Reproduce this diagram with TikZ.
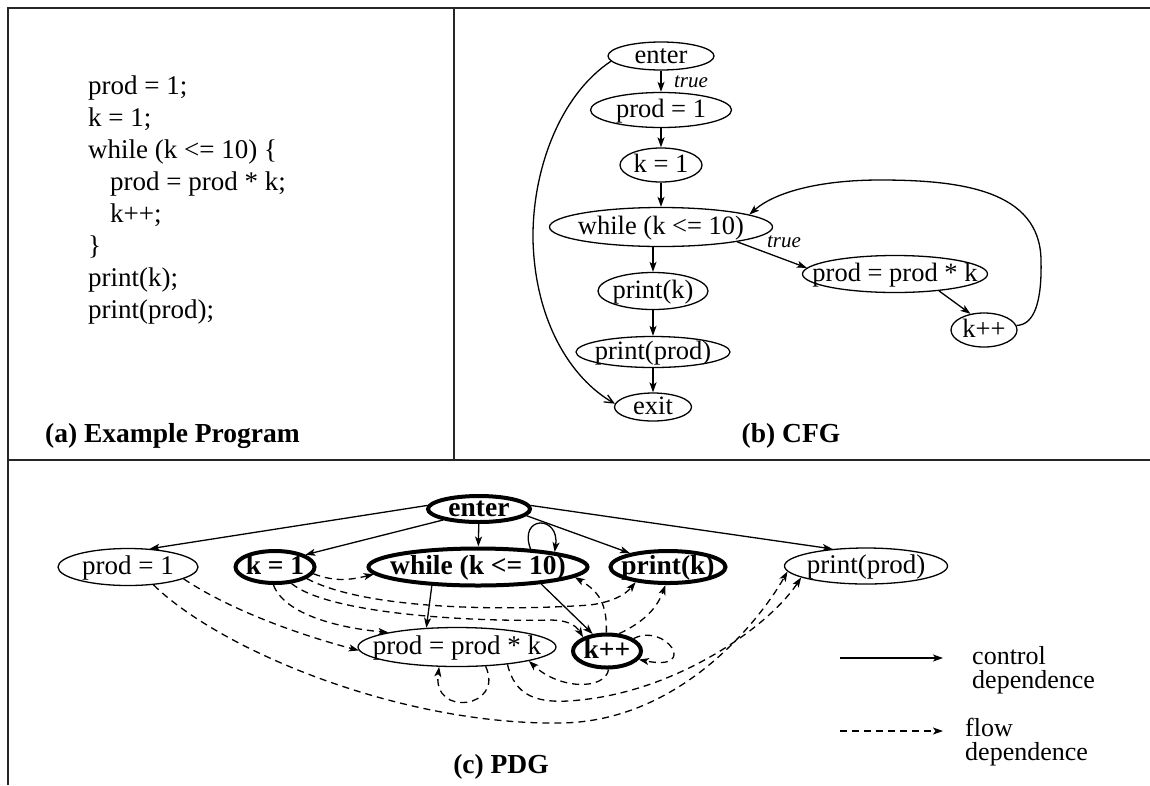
\documentclass[tikz,border=0pt]{standalone}
\usepackage{fontspec}
\setmainfont{Liberation Serif}
\usetikzlibrary{arrows.meta,shapes.geometric}
\newcommand{\ntx}[1]{\makebox[0pt]{#1}}
\begin{document}
\begin{tikzpicture}[x=1pt,y=-1pt,
  >={Stealth[length=10pt,width=7pt,inset=2.5pt]},
  ell/.style 2 args={ellipse, draw, line width=1.3pt, inner sep=0pt, minimum width=#1, minimum height=#2, text height=15.5pt, text depth=0pt},
  thk/.style={line width=4pt},
  cfgf/.style={font=\fontsize{26.5}{30}\selectfont},
  pdgf/.style={font=\fontsize{27}{30}\selectfont},
  bfn/.style={font=\fontsize{27.5}{30}\selectfont\bfseries},
  codef/.style={anchor=base west, inner sep=0pt, font=\fontsize{27}{30}\selectfont},
  capf/.style={inner sep=0pt, font=\fontsize{27.5}{30}\selectfont\bfseries},
  truef/.style={inner sep=0pt, font=\fontsize{21}{24}\selectfont\itshape},
  legf/.style={anchor=base west, inner sep=0pt, font=\fontsize{26}{21}\selectfont},
  ctl/.style={->, line width=1.3pt},
  flw/.style={->, line width=1.3pt, dash pattern=on 7pt off 5pt},
  frm/.style={line width=2pt, black!85},
]
\useasboundingbox (0,0) rectangle (1150,785);

% frame
\draw[frm] (8,785) -- (8,8) -- (1150,8);
\draw[frm] (8,460) -- (1150,460);
\draw[line width=1.3pt, black!85] (454,8) -- (454,460);

% (a) program
\node[codef] (c1) at (88,94.5) {prod = 1;};
\node[codef] (c2) at (88,126.5) {k = 1;};
\node[codef] (c3) at (88,158.5) {while (k <= 10) \{};
\node[codef] (c4) at (110,190.5) {prod = prod * k;};
\node[codef] (c5) at (110,222.5) {k++;};
\node[codef] (c6) at (88,254.5) {\}};
\node[codef] (c7) at (88,286.5) {print(k);};
\node[codef] (c8) at (88,318.5) {print(prod);};
\node[capf, anchor=base west] (la) at (45,442) {(a) Example Program};

% (b) CFG
\node[ell={106pt}{28pt}, cfgf] (cEnter) at (661,56) {\ntx{enter}};
\node[ell={141pt}{35pt}, cfgf] (cProd1) at (661,110) {\ntx{prod = 1}};
\node[ell={82pt}{34pt}, cfgf] (cK1) at (661,165) {\ntx{k = 1}};
\node[ell={223pt}{39pt}, cfgf] (cWhile) at (661,227) {\ntx{while (k <= 10)}};
\node[ell={110pt}{37pt}, cfgf] (cPk) at (653,291) {\ntx{print(k)}};
\node[ell={154pt}{31pt}, cfgf] (cPp) at (653,352) {\ntx{print(prod)}};
\node[ell={77pt}{28pt}, cfgf] (cExit) at (653,407) {\ntx{exit}};
\node[ell={185pt}{37pt}, cfgf] (cProdk) at (895,274) {\ntx{prod = prod * k}};
\node[ell={66pt}{34pt}, cfgf] (cKpp) at (984,330) {\ntx{k++}};
\node[truef] (t1) at (691,82) {true};
\node[truef] (t2) at (784,242) {true};
\node[capf, anchor=base] (lb) at (791,442) {(b) CFG};

\draw[ctl] (cEnter) -- (cProd1);
\draw[ctl] (cProd1) -- (cK1);
\draw[ctl] (cK1) -- (cWhile);
\draw[ctl] (cPk |- cWhile.south) -- (cPk);
\draw[ctl] (cPk) -- (cPp);
\draw[ctl] (cPp) -- (cExit);
\draw[ctl] (cWhile.-11) -- (cProdk.176);
\draw[ctl] (cProdk.-21) -- (cKpp.130);
\draw[ctl] (cKpp.8) .. controls (1035,325) and (1042,300) .. (1041,260)
  .. controls (1040,190) and (960,180) .. (880,180)
  .. controls (820,180) and (775,192) .. (cWhile.8);
\draw[line width=1.3pt, -{Straight Barb[length=9pt,width=8pt]}] (cEnter.186)
  .. controls (560,95) and (532,170) .. (533,240)
  .. controls (535,320) and (570,378) .. (cExit.175);

% (c) PDG
\node[ell={102pt}{26pt}, thk, bfn] (pEnter) at (479,509) {\ntx{enter}};
\node[ell={140pt}{37pt}, pdgf] (pProd1) at (128,567) {\ntx{prod = 1}};
\node[ell={79pt}{32pt}, thk, bfn] (pK1) at (275,567) {\ntx{k = 1}};
\node[ell={219pt}{37pt}, thk, bfn] (pWhile) at (478,567) {\ntx{while (k <= 10)}};
\node[ell={115pt}{32pt}, thk, bfn] (pPk) at (668,567) {\ntx{print(k)}};
\node[ell={163pt}{36pt}, pdgf] (pPp) at (866,566) {\ntx{print(prod)}};
\node[ell={198pt}{39pt}, pdgf] (pProdk) at (457,647) {\ntx{prod = prod * k}};
\node[ell={68pt}{33pt}, thk, bfn] (pKpp) at (607,651) {\ntx{k++}};
\node[capf, anchor=base] (lc) at (501,773) {(c) PDG};

% control dependences
\draw[ctl] (pEnter.176) -- (pProd1.40);
\draw[ctl] (pEnter.197) -- (pK1.22);
\draw[ctl] (pEnter) -- (pWhile);
\draw[ctl] (pEnter.-8) -- (pPk.160);
\draw[ctl] (pEnter.4) -- (pPp.153);
\draw[ctl] (pWhile.19) .. controls (518,515) and (560,515) .. (pWhile.11);
\draw[ctl] (pWhile.202) -- (pProdk.148);
\draw[ctl] (pWhile.-15) -- (pKpp.130);

% flow dependences
\draw[flw] (pK1.-10) .. controls (335,582) and (350,580) .. (pWhile.184);
\draw[flw] (pK1.-20) .. controls (370,612) and (520,610) .. (590,605)
  .. controls (612,602) and (625,595) .. (pPk.205);
\draw[flw] (pK1.-45) .. controls (330,615) and (480,622) .. (550,620)
  .. controls (565,620) and (575,624) .. (pKpp.150);
\draw[flw] (pK1.265) .. controls (285,615) and (340,628) .. (pProdk.168);
\draw[flw] (pProd1.-12) .. controls (230,610) and (300,635) .. (pProdk.182);
\draw[flw] (pProd1.-35) .. controls (220,650) and (400,725) .. (560,723)
  .. controls (680,722) and (760,620) .. (pPp.184);
\draw[flw] (pProdk.-34) .. controls (505,708) and (432,718) .. (pProdk.-132);
\draw[flw] (pProdk.-19) .. controls (515,695) and (535,705) .. (580,700)
  .. controls (680,690) and (770,625) .. (pPp.190);
\draw[flw] (pKpp.92) .. controls (607,605) and (600,592) .. (pWhile.-6);
\draw[flw] (pKpp.55) .. controls (648,620) and (658,605) .. (pPk.262);
\draw[flw] (pKpp.25) .. controls (665,622) and (700,672) .. (pKpp.-15);
\draw[flw] (pKpp.-85) .. controls (605,690) and (560,690) .. (pProdk.-11);

% legend
\coordinate (l1s) at (840,658);
\coordinate (l1e) at (943,658);
\coordinate (l2s) at (840,731);
\coordinate (l2e) at (943,731);
\draw[ctl] (l1s) -- (l1e);
\draw[flw] (l2s) -- (l2e);
\node[legf, text depth=0pt] (lt1a) at (972,664) {control};
\node[legf] (lt1b) at (972,688) {dependence};
\node[legf, text depth=0pt] (lt2a) at (965,736) {flow};
\node[legf] (lt2b) at (965,760) {dependence};
\end{tikzpicture}
\end{document}
